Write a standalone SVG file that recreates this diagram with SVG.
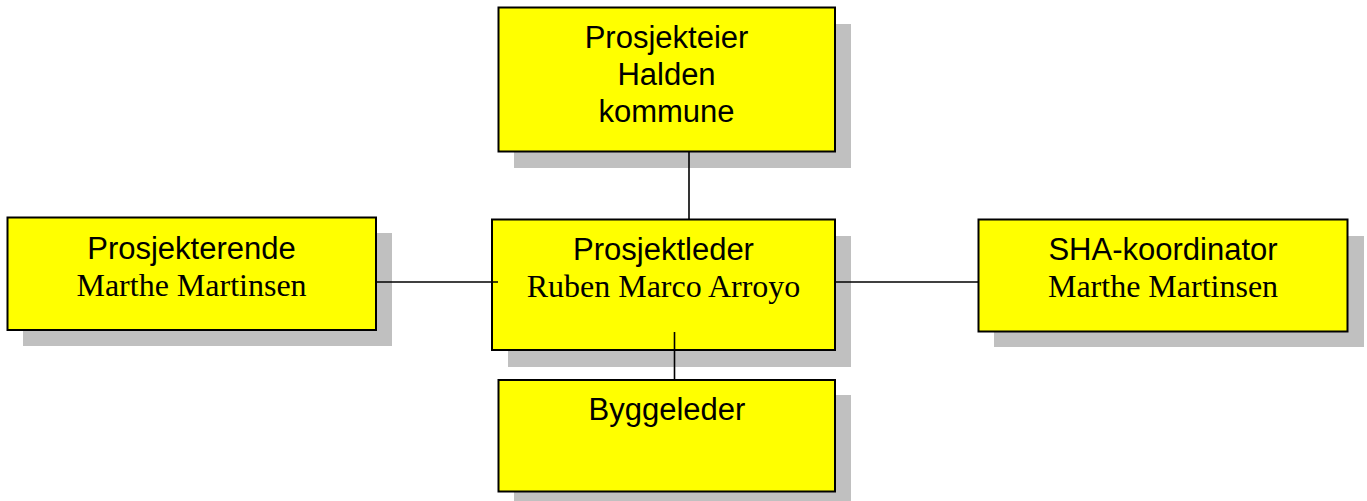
<svg xmlns="http://www.w3.org/2000/svg" width="1367" height="501" viewBox="0 0 1367 501">
  <style>
    .shadow { fill: #c0c0c0; }
    .box { fill: #ffff00; stroke: #000; stroke-width: 2; }
    .sans { font-family: "Liberation Sans", Arial, sans-serif; font-size: 31px; fill: #000; text-anchor: middle; }
    .serif { font-family: "Liberation Serif", "Times New Roman", serif; font-size: 32px; fill: #000; text-anchor: middle; }
    .link { stroke: #000; stroke-width: 1.6; fill: none; }
  </style>
  <rect width="1367" height="501" fill="#fff"/>

  <!-- drop shadows -->
  <g id="shadows">
    <rect class="shadow" x="514" y="24" width="337" height="144"/>
    <rect class="shadow" x="23" y="233" width="369" height="113"/>
    <rect class="shadow" x="508" y="236" width="343" height="131"/>
    <rect class="shadow" x="994" y="236" width="370" height="111"/>
    <rect class="shadow" x="514" y="395" width="337" height="106"/>
  </g>

  <g id="prosjekteier">
    <rect class="box" x="498.5" y="7.5" width="336.5" height="144"/>
    <text class="sans" x="666.5" y="48">Prosjekteier</text>
    <text class="sans" x="666.5" y="85">Halden</text>
    <text class="sans" x="666.5" y="122">kommune</text>
  </g>

  <g id="prosjekterende">
    <rect class="box" x="7.5" y="217.5" width="368.5" height="112.5"/>
    <text class="sans" x="191.5" y="259">Prosjekterende</text>
    <text class="serif" x="191.5" y="296">Marthe Martinsen</text>
  </g>

  <g id="prosjektleder">
    <rect class="box" x="492" y="219.5" width="343" height="130.5"/>
    <text class="sans" x="663.5" y="260">Prosjektleder</text>
    <text class="serif" x="663.5" y="297">Ruben Marco Arroyo</text>
  </g>

  <g id="sha-koordinator">
    <rect class="box" x="978.5" y="219.5" width="369" height="112"/>
    <text class="sans" x="1163" y="260">SHA-koordinator</text>
    <text class="serif" x="1163" y="297">Marthe Martinsen</text>
  </g>

  <g id="byggeleder">
    <rect class="box" x="498.5" y="380" width="336.5" height="111.5"/>
    <text class="sans" x="667" y="420">Byggeleder</text>
  </g>

  <!-- connectors, drawn over the boxes -->
  <g id="connectors">
    <line class="link" x1="689" y1="152" x2="689" y2="219"/>
    <line class="link" x1="376" y1="282" x2="498" y2="282"/>
    <line class="link" x1="835" y1="282" x2="979" y2="282"/>
    <line class="link" x1="674.5" y1="332" x2="674.5" y2="380"/>
  </g>
</svg>
